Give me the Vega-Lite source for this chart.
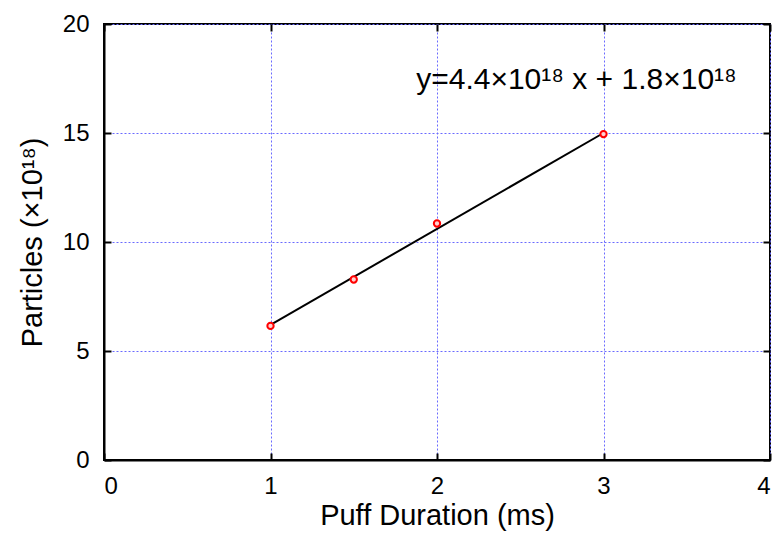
{
  "$schema": "https://vega.github.io/schema/vega-lite/v6.json",
  "width": 666,
  "height": 436,
  "autosize": "none",
  "padding": {"left": 104, "top": 24, "right": 12, "bottom": 78},
  "background": "white",
  "config": {
    "font": "Liberation Sans",
    "view": {"stroke": "black", "strokeWidth": 2},
    "axis": {
      "labelFont": "Liberation Sans",
      "titleFont": "Liberation Sans",
      "labelFontSize": 24,
      "titleFontSize": 29,
      "labelColor": "black",
      "titleColor": "black",
      "titleFontWeight": "normal",
      "domainColor": "black",
      "domainWidth": 2,
      "tickColor": "black",
      "tickWidth": 2,
      "tickSize": -7,
      "gridColor": "#6a6aff",
      "gridDash": [2, 2],
      "gridWidth": 1,
      "gridOpacity": 1
    }
  },
  "datasets": {
    "pts": [
      {"t": 1, "p": 6.15},
      {"t": 1.5, "p": 8.28},
      {"t": 2, "p": 10.85},
      {"t": 3, "p": 14.95}
    ],
    "fit": [
      {"t": 1, "p": 6.2},
      {"t": 3, "p": 15.0}
    ],
    "ann": [
      {"t": 1.875, "p": 17.45, "label": "y=4.4×10¹⁸ x + 1.8×10¹⁸"}
    ]
  },
  "resolve": {"axis": {"x": "independent", "y": "independent"}},
  "layer": [
    {
      "data": {"name": "fit"},
      "mark": {"type": "line", "color": "black", "strokeWidth": 2},
      "encoding": {
        "x": {"field": "t", "type": "quantitative", "scale": {"domain": [0, 4], "nice": false},
          "axis": {"title": "Puff Duration (ms)", "values": [0, 1, 2, 3, 4], "labelFontSize": 24, "titleFontSize": 29, "labelPadding": 21, "titlePadding": 3, "grid": true}},
        "y": {"field": "p", "type": "quantitative", "scale": {"domain": [0, 20], "nice": false},
          "axis": {"title": "Particles (×10¹⁸)", "values": [0, 5, 10, 15, 20], "labelFontSize": 24, "titleFontSize": 29, "labelPadding": 22, "titlePadding": 15, "grid": true}}
      }
    },
    {
      "data": {"name": "pts"},
      "mark": {"type": "point", "shape": "circle", "color": "red", "filled": false, "strokeWidth": 2, "size": 40, "fill": "#ffd0d0", "fillOpacity": 1},
      "encoding": {
        "x": {"field": "t", "type": "quantitative", "axis": {"orient": "top", "labels": false, "title": null, "values": [0, 1, 2, 3, 4], "grid": false, "domain": false}},
        "y": {"field": "p", "type": "quantitative", "axis": {"orient": "right", "labels": false, "title": null, "values": [0, 5, 10, 15, 20], "grid": false, "domain": false}}
      }
    },
    {
      "data": {"name": "ann"},
      "mark": {"type": "text", "align": "left", "baseline": "middle", "fontSize": 30, "font": "Liberation Sans", "color": "black"},
      "encoding": {
        "x": {"field": "t", "type": "quantitative", "axis": null},
        "y": {"field": "p", "type": "quantitative", "axis": null},
        "text": {"field": "label"}
      }
    }
  ]
}
